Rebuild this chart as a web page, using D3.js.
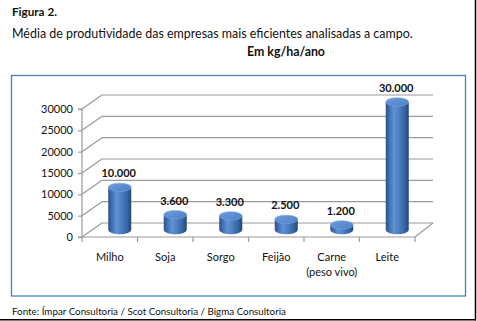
<!DOCTYPE html>
<html><head><meta charset="utf-8">
<script src="https://cdn.jsdelivr.net/npm/d3@7"></script>
<style>
html,body{margin:0;padding:0;background:#fff;}
svg{display:block;font-family:"Lato","Noto Sans",sans-serif;}
</style></head>
<body>
<svg id="c" width="477" height="321"></svg>
<script>
const categories = ["Milho","Soja","Sorgo","Feijão","Carne\n(peso vivo)","Leite"];
const values = [10000, 3600, 3300, 2500, 1200, 30000];
const yTicks = [0,5000,10000,15000,20000,25000,30000];
const figTitle = "Figura 2.";
const subTitle = "Média de produtividade das empresas mais eficientes analisadas a campo.";
const unitText = "Em kg/ha/ano";
const sourceText = "Fonte: Ímpar Consultoria / Scot Consultoria / Bigma Consultoria";

const svg = d3.select("#c");
const ptBR = d3.formatLocale({decimal:",", thousands:".", grouping:[3], currency:["R$",""]});
const fmtLabel = ptBR.format(",d");

function fitText(sel, w){
  const n = sel.node();
  const fs = parseFloat(sel.attr("font-size"));
  const cur = n.getComputedTextLength();
  sel.attr("font-size", (fs*w/cur).toFixed(2));
}

// outer frame (right & bottom)
svg.append("line").attr("x1",475.5).attr("x2",475.5).attr("y1",0).attr("y2",320.5).attr("stroke","#000").attr("stroke-width",1.5);
svg.append("line").attr("x1",0).attr("x2",476).attr("y1",319.8).attr("y2",319.8).attr("stroke","#000").attr("stroke-width",1.5);

// titles
const t1 = svg.append("text").attr("x",12).attr("y",16).attr("font-size",12).attr("font-weight","bold").attr("fill","#111").text(figTitle);
fitText(t1, 45);
const t2 = svg.append("text").attr("x",12).attr("y",38).attr("font-size",13).attr("fill","#111").text(subTitle);
fitText(t2, 401);
const t3 = svg.append("text").attr("x",247).attr("y",56).attr("font-size",12).attr("font-weight","bold").attr("fill","#111").text(unitText);
fitText(t3, 78);
const t4 = svg.append("text").attr("x",12).attr("y",315).attr("font-size",11).attr("fill","#111").text(sourceText);
fitText(t4, 274);

// chart border
svg.append("rect").attr("x",11.5).attr("y",75.5).attr("width",454).attr("height",220.5)
  .attr("fill","none").attr("stroke","#4a7ebb").attr("stroke-width",1.3);

// scales
const x = d3.scaleBand().domain(categories).range([82,415]).padding(0);
const y = d3.scaleLinear().domain([0,30000]).range([237,109]);
const dx = 20, dy = -14;
const gridCol = "#9a9a9a";

const g = svg.append("g");
// back wall gridlines + side wall diagonals
yTicks.forEach(t=>{
  g.append("line").attr("x1",82+dx).attr("x2",433).attr("y1",y(t)+dy).attr("y2",y(t)+dy)
    .attr("stroke",gridCol).attr("stroke-width",1.2);
  g.append("line").attr("x1",82).attr("x2",82+dx).attr("y1",y(t)).attr("y2",y(t)+dy)
    .attr("stroke",gridCol).attr("stroke-width",1.2);
});
// floor right edge
g.append("line").attr("x1",415).attr("x2",433).attr("y1",y(0)).attr("y2",y(0)+dy).attr("stroke",gridCol).attr("stroke-width",1.2);

// y axis
const yAxis = d3.axisLeft(y).tickValues(yTicks).tickFormat(d3.format("d")).tickSize(4).tickPadding(5);
const ya = svg.append("g").attr("transform","translate(82,0)").call(yAxis);
ya.select(".domain").attr("stroke",gridCol).attr("stroke-width",1.2).attr("d",`M-4,${y(30000)}H0V${y(0)}H-4`);
ya.selectAll(".tick line").attr("stroke",gridCol).attr("stroke-width",1.2);
ya.selectAll(".tick text").attr("font-size",11).attr("fill","#111").attr("font-family","Lato, 'Noto Sans', sans-serif");

// x axis
const xa = svg.append("g").attr("transform",`translate(0,${y(0)})`);
xa.append("line").attr("x1",82).attr("x2",415).attr("y1",0).attr("y2",0).attr("stroke",gridCol).attr("stroke-width",1.2);
const bounds = categories.map(c=>x(c)).concat([x(categories[categories.length-1])+x.bandwidth()]);
bounds.forEach(b=>{
  xa.append("line").attr("x1",b).attr("x2",b).attr("y1",0).attr("y2",5).attr("stroke",gridCol).attr("stroke-width",1.2);
});
categories.forEach(c=>{
  const lines = c.split("\n");
  const tx = xa.append("text").attr("x",x(c)+x.bandwidth()/2).attr("y",24).attr("text-anchor","middle")
    .attr("font-size",11).attr("fill","#111");
  lines.forEach((l,i)=>tx.append("tspan").attr("x",x(c)+x.bandwidth()/2).attr("dy",i===0?0:15).text(l));
});

// gradient
const defs = svg.append("defs");
const grad = defs.append("linearGradient").attr("id","cyl").attr("x1","0").attr("x2","1").attr("y1","0").attr("y2","0");
[[0,"#2b4f82"],[0.12,"#3d69a8"],[0.35,"#5f92d6"],[0.6,"#4a7cc0"],[0.85,"#34609c"],[1,"#264674"]]
  .forEach(([o,c])=>grad.append("stop").attr("offset",o).attr("stop-color",c));
const gradTop = defs.append("linearGradient").attr("id","cylTop").attr("x1","0").attr("x2","1").attr("y1","0").attr("y2","1");
[[0,"#6d9be0"],[1,"#4f80c4"]].forEach(([o,c])=>gradTop.append("stop").attr("offset",o).attr("stop-color",c));

// cylinders
const rx = 11.5, ry = 4.2;
const bars = svg.append("g");
categories.forEach((c,i)=>{
  const cx = x(c)+x.bandwidth()/2 + dx/2;
  const yb = y(0) + dy/2;
  const yt = y(values[i]) + dy/2;
  bars.append("path")
    .attr("d",`M${cx-rx},${yt} L${cx-rx},${yb} A${rx},${ry} 0 0 0 ${cx+rx},${yb} L${cx+rx},${yt} Z`)
    .attr("fill","url(#cyl)");
  bars.append("ellipse").attr("cx",cx).attr("cy",yt).attr("rx",rx).attr("ry",ry)
    .attr("fill","url(#cylTop)").attr("stroke","#7aa6e0").attr("stroke-width",0.6);
  bars.append("text").attr("x",cx-1).attr("y",yt-10).attr("text-anchor","middle")
    .attr("font-size",11).attr("font-weight","bold").attr("fill","#111").text(fmtLabel(values[i]));
});
</script>
</body></html>
